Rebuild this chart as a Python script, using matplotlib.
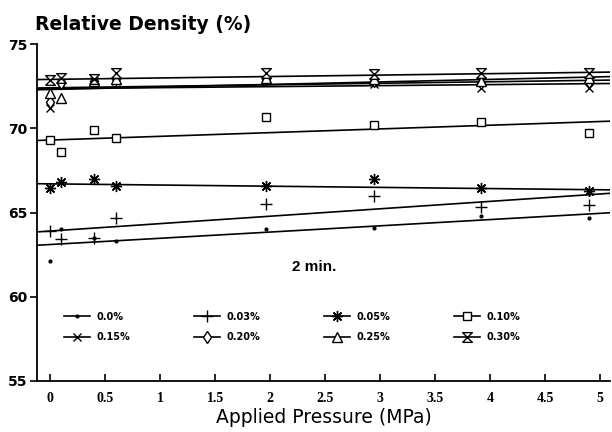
import matplotlib
matplotlib.use("Agg")
from matplotlib import pyplot as plt
from matplotlib.path import Path
import numpy as np

# applied pressure (MPa) at which every batch was pressed
pressure = [0.0, 0.1, 0.4, 0.6, 1.96, 2.94, 3.92, 4.9]

labels = ["0.0%", "0.03%", "0.05%", "0.10%", "0.15%", "0.20%", "0.25%", "0.30%"]

# relative density (%), one list per additive content
d_000 = [62.1, 64.0, 63.5, 63.3, 64.0, 64.1, 64.8, 64.7]
d_003 = [63.9, 63.4, 63.5, 64.7, 65.5, 66.0, 65.3, 65.45]
d_005 = [66.45, 66.8, 67.0, 66.6, 66.6, 67.0, 66.45, 66.3]
d_010 = [69.3, 68.6, 69.9, 69.4, 70.65, 70.2, 70.35, 69.7]
d_015 = [71.2, 72.6, 72.8, 72.8, 72.8, 72.6, 72.4, 72.4]
d_020 = [71.55, 72.7, 72.8, 72.9, 72.9, 72.8, 72.7, 72.75]
d_025 = [72.1, 71.8, 72.8, 72.9, 73.0, 72.9, 72.8, 73.0]
d_030 = [72.85, 73.0, 72.9, 73.3, 73.3, 73.2, 73.3, 73.3]

# straight fit lines as drawn: value at 0 MPa and slope per MPa
fit_start = [63.1, 63.9, 66.7, 69.3, 72.35, 72.4, 72.3, 72.9]
fit_slope = [0.37, 0.44, -0.07, 0.22, 0.06, 0.09, 0.15, 0.085]

series = [d_000, d_003, d_005, d_010, d_015, d_020, d_025, d_030]

hourglass = Path([(-1, -1), (1, -1), (-1, 1), (1, 1), (-1, -1)])
markers = [".", "+", (8, 2, 0), "s", "x", "d", "^", hourglass]
msizes = [4, 8, 8, 6, 6, 6, 7, 7]
open_face = [False, False, False, True, False, True, True, True]

fig = plt.figure(figsize=(6.12, 4.32), dpi=100)
ax = fig.add_axes([37 / 612, 1 - 381 / 432, (610 - 37) / 612, (381 - 44) / 432])

xlo, xhi = -0.12, 5.09
xfit = np.array([xlo, xhi])

handles = []
for vals, m, ms, of, a, b in zip(series, markers, msizes, open_face, fit_start, fit_slope):
    face = "white" if of else "black"
    ax.plot(xfit, a + b * xfit, color="black", lw=1.2)
    ax.plot(pressure, vals, linestyle="none", marker=m, ms=ms, color="black",
            mfc=face, mew=1.0)
    h, = ax.plot([], [], color="black", lw=1.2, marker=m, ms=ms, mfc=face, mew=1.0)
    handles.append(h)

# legend rows: 0.0 0.03 0.05 0.10 / 0.15 0.20 0.25 0.30
order = [0, 4, 1, 5, 2, 6, 3, 7]
leg = ax.legend([handles[i] for i in order], [labels[i] for i in order],
                ncol=4, loc="center left", bbox_to_anchor=(0.032, 0.16),
                frameon=False, handlelength=2.7, handletextpad=0.6,
                columnspacing=6.6, labelspacing=1.1,
                prop={"size": 7, "weight": "bold"})

ax.text(2.2, 61.75, "2 min.", fontsize=11, fontweight="bold", va="center",
        family="Liberation Sans")

ax.set_xlim(xlo, xhi)
ax.set_ylim(55, 75)
ax.set_xticks(np.arange(0, 5.01, 0.5))
ax.set_xticklabels([f"{t:g}" for t in np.arange(0, 5.01, 0.5)],
                   family="Liberation Serif", fontweight="bold", fontsize=10)
ax.set_yticks([55, 60, 65, 70, 75])
ax.set_yticklabels(["55", "60", "65", "70", "75"], fontweight="bold", fontsize=10)
ax.tick_params(axis="x", direction="in", length=5, width=1.2, pad=8)
ax.tick_params(axis="y", direction="out", length=5, width=1.2, pad=2)
ax.spines["top"].set_visible(False)
ax.spines["right"].set_visible(False)
ax.spines["left"].set_linewidth(1.3)
ax.spines["bottom"].set_linewidth(1.3)

ax.set_xlabel("Applied Pressure (MPa)", fontsize=13.5, labelpad=2)
fig.text(35 / 612, 1 - 25 / 432, "Relative Density (%)", fontsize=13.5,
         fontweight="bold", va="center", ha="left")

fig.savefig("out.png", dpi=100)
